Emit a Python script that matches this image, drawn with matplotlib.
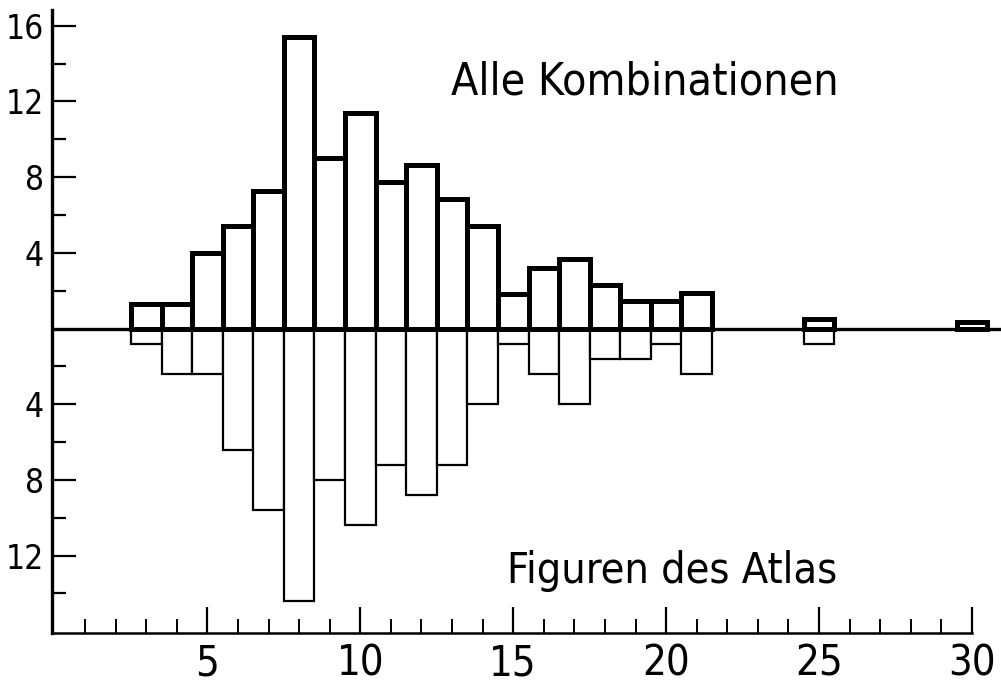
import matplotlib
matplotlib.use("Agg")
import matplotlib.pyplot as plt
import numpy as np

# Anzahl der Kombinationen (x) und Anteile in Prozent
klassen = [3, 4, 5, 6, 7, 8, 9, 10, 11, 12, 13, 14, 15, 16, 17, 18, 19, 20, 21,
           22, 23, 24, 25, 26, 27, 28, 29, 30]
alle_kombinationen = [1.3, 1.3, 4.0, 5.4, 7.25, 15.4, 9.0, 11.4, 7.75, 8.65, 6.85, 5.4,
                      1.85, 3.2, 3.65, 2.3, 1.45, 1.45, 1.9, 0, 0, 0, 0.5, 0, 0, 0, 0, 0.35]
figuren_atlas = [0.8, 2.4, 2.4, 6.4, 9.6, 14.4, 8.0, 10.4, 7.2, 8.8, 7.2, 4.0,
                 0.8, 2.4, 4.0, 1.6, 1.6, 0.8, 2.4, 0, 0, 0, 0.8, 0, 0, 0, 0, 0]

y_ticks = [-12, -8, -4, 4, 8, 12, 16]
y_minor = [-14, -10, -6, -2, 2, 6, 10, 14]
x_ticks = [5, 10, 15, 20, 25, 30]

schrift = dict(family="DejaVu Sans", stretch="condensed")

fig = plt.figure(figsize=(10.01, 6.95), dpi=100)
ax = fig.add_axes([0.052, 0.089, 0.948, 0.897])

x = np.array(klassen)
oben = np.array(alle_kombinationen)
unten = np.array(figuren_atlas)

# untere Balken (Figuren des Atlas), duenne Linien
m = unten > 0
ax.bar(x[m], -unten[m], width=1.0, color="white", edgecolor="black",
       linewidth=1.6, joinstyle="miter", zorder=2)

# obere Balken (alle Kombinationen), dicke Linien
m = oben > 0
ax.bar(x[m], oben[m], width=1.0, color="white", edgecolor="black",
       linewidth=3.6, joinstyle="miter", zorder=3)

# Nulllinie
ax.axhline(0, color="black", linewidth=2.4, zorder=4)

ax.set_xlim(-0.08, 30.95)
ax.set_ylim(-16.1, 16.85)

# Achsen
for s in ["top", "right"]:
    ax.spines[s].set_visible(False)
ax.spines["left"].set_linewidth(2.4)
ax.spines["bottom"].set_linewidth(1.8)
ax.spines["bottom"].set_bounds(-0.08, 30)

ax.set_xticks(x_ticks)
ax.set_xticks(range(1, 31), minor=True)
ax.set_xticklabels([str(t) for t in x_ticks], fontsize=30, **schrift)
ax.tick_params(axis="x", which="major", direction="in", length=19, width=1.6, pad=7)
ax.tick_params(axis="x", which="minor", direction="in", length=10, width=1.4)

ax.set_yticks(y_ticks)
ax.set_yticks(y_minor, minor=True)
ax.set_yticklabels([str(abs(t)) for t in y_ticks], fontsize=24, **schrift)
ax.tick_params(axis="y", which="major", direction="in", length=17, width=1.6, pad=6)
ax.tick_params(axis="y", which="minor", direction="in", length=10, width=1.6)

# Beschriftungen
ax.text(19.3, 13.05, "Alle Kombinationen", fontsize=32, ha="center", va="center",
        **schrift)
ax.text(20.2, -12.8, "Figuren des Atlas", fontsize=31, ha="center", va="center",
        **schrift)

plt.savefig("out.png", dpi=100)
plt.close()
